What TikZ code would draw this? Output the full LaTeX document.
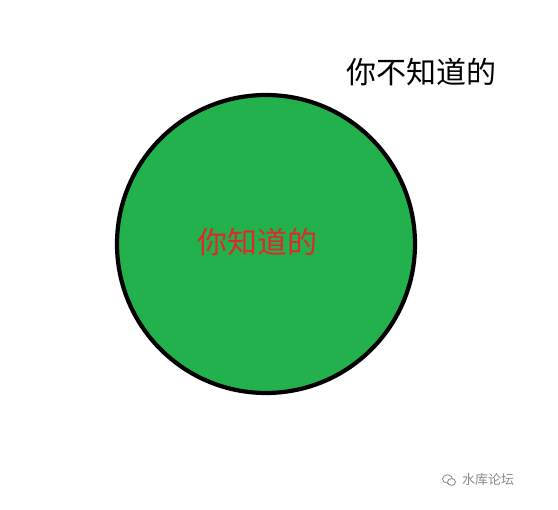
\documentclass[tikz,border=0pt]{standalone}
\usepackage{fontspec}
\usetikzlibrary{calc}
\newfontfamily\cjk{Noto Sans CJK SC}
\definecolor{paintgreen}{HTML}{22B14C}
\definecolor{paintred}{HTML}{E0282C}
\definecolor{wmgrey}{HTML}{8A8A8A}
\begin{document}
\begin{tikzpicture}[x=1pt,y=-1pt,
  bigtext/.style={font=\cjk\fontsize{30}{33}\selectfont, inner sep=0pt},
  redtext/.style={font=\cjk\fontsize{30}{33}\selectfont, inner sep=0pt, text=paintred},
  wmtext/.style={font=\cjk\fontsize{13}{15}\selectfont, inner sep=0pt, text=wmgrey, anchor=west},
  setcircle/.style={draw=black, line width=4.2pt, fill=paintgreen}]
\useasboundingbox[fill=white] (0,0) rectangle (558,510);
\node[setcircle, circle, minimum size=298pt, inner sep=0pt] (known) at (266,244) {};
\node[redtext] (knowntext) at (257.5,242) {你知道的};
\node[bigtext] (unknown) at (421.5,72) {你不知道的};
% watermark
\coordinate (icon) at (449,480);
\draw[wmgrey, line width=0.8pt] ($(icon)+(-1.5,-1)$) ellipse [x radius=5, y radius=4.2];
\draw[wmgrey, line width=0.8pt, fill=white] ($(icon)+(2.5,2)$) ellipse [x radius=4, y radius=3.4];
\node[wmtext] (wm) at (462,480) {水库论坛};
\end{tikzpicture}
\end{document}
